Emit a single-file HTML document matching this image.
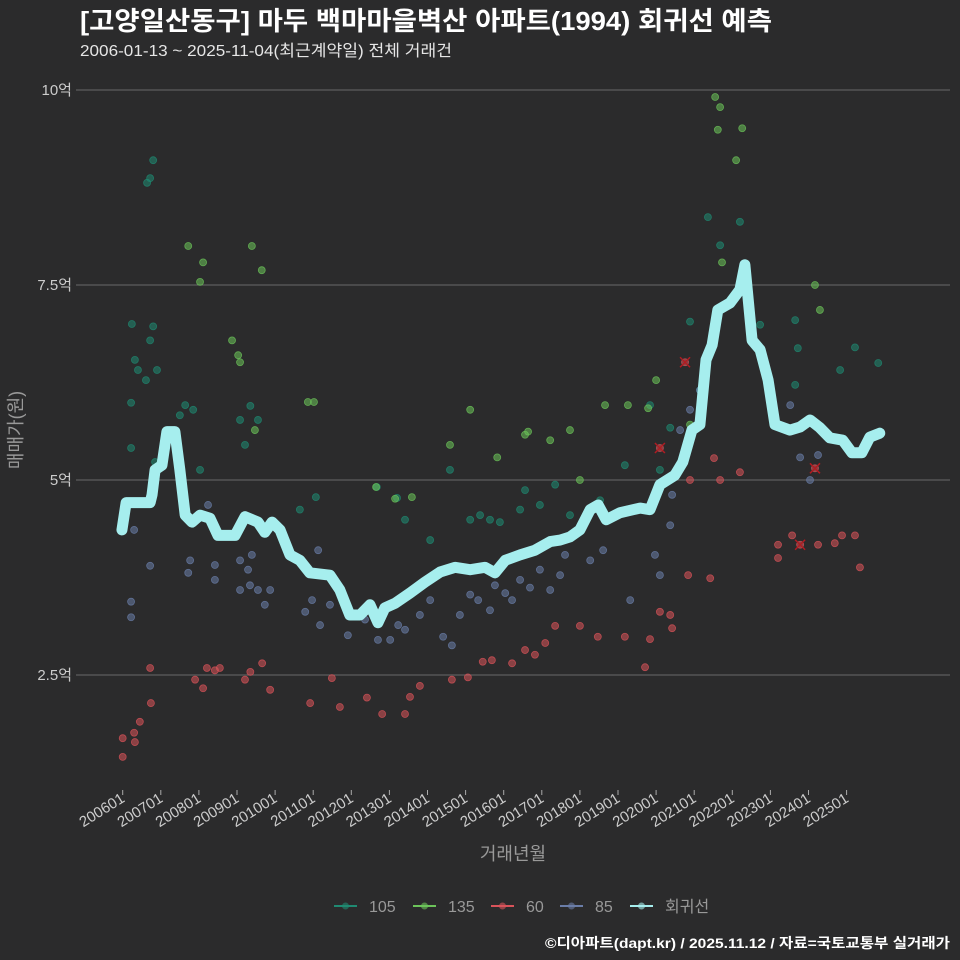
<!DOCTYPE html>
<html><head><meta charset="utf-8"><style>
body{margin:0;background:#2b2b2c;}
svg{display:block;font-family:"Liberation Sans","Noto Sans CJK KR",sans-serif;}
</style></head><body>
<svg id="chart" width="960" height="960">
<rect width="960" height="960" fill="#2b2b2c"/>
<text x="80" y="30" font-size="26" font-weight="bold" fill="#ffffff" textLength="692" lengthAdjust="spacingAndGlyphs">[고양일산동구] 마두 백마마을벽산 아파트(1994) 회귀선 예측</text>
<text x="80" y="56" font-size="16" fill="#e6e6e6" textLength="372" lengthAdjust="spacingAndGlyphs">2006-01-13 ~ 2025-11-04(최근계약일) 전체 거래건</text>
<g id="grid"></g><g id="pts"></g><g id="line"></g><g id="axes"></g>
<text transform="translate(22,430) rotate(-90)" text-anchor="middle" font-size="18" fill="#999">매매가(원)</text>
<text x="513" y="860" text-anchor="middle" font-size="18" fill="#999">거래년월</text>
<g id="legend"></g>
<text x="950" y="948" text-anchor="end" font-size="14" font-weight="bold" fill="#ffffff" textLength="405" lengthAdjust="spacingAndGlyphs">©디아파트(dapt.kr) / 2025.11.12 / 자료=국토교통부 실거래가</text>
</svg>
<script>
const yTicks=[2.5,5,7.5,10];
const yTickLabels=["2.5억","5억","7.5억","10억"];
const xTickYears=[2006,2007,2008,2009,2010,2011,2012,2013,2014,2015,2016,2017,2018,2019,2020,2021,2022,2023,2024,2025];
const xTickLabels=["200601","200701","200801","200901","201001","201101","201201","201301","201401","201501","201601","201701","201801","201901","202001","202101","202201","202301","202401","202501"];
const regT=[-0.02,0.09,0.72,0.77,0.85,1.03,1.16,1.37,1.50,1.64,1.82,2.03,2.29,2.50,2.95,3.21,3.55,3.73,3.92,4.13,4.39,4.65,4.91,5.44,5.70,5.96,6.23,6.49,6.70,6.88,7.15,7.54,7.93,8.33,8.72,9.12,9.51,9.77,10.04,10.43,10.82,11.22,11.48,11.74,12.00,12.27,12.48,12.69,13.05,13.58,13.84,14.10,14.49,14.70,14.94,15.15,15.31,15.47,15.62,15.94,16.20,16.33,16.52,16.73,16.94,17.12,17.51,17.78,18.04,18.30,18.56,18.90,19.14,19.40,19.61,19.87];
const regV=[4.36,4.71,4.71,4.81,5.13,5.19,5.62,5.62,5.13,4.55,4.46,4.55,4.51,4.29,4.29,4.53,4.46,4.33,4.46,4.36,4.04,3.97,3.81,3.78,3.59,3.27,3.27,3.40,3.17,3.36,3.42,3.55,3.69,3.82,3.88,3.85,3.88,3.81,3.97,4.04,4.10,4.21,4.23,4.27,4.36,4.62,4.68,4.49,4.58,4.64,4.62,4.94,5.06,5.23,5.64,5.71,6.54,6.73,7.18,7.27,7.44,7.76,6.79,6.67,6.28,5.71,5.64,5.68,5.77,5.67,5.54,5.51,5.35,5.35,5.55,5.60];
const s105T=[0.22,0.22,0.24,0.32,0.40,0.61,0.64,0.72,0.80,0.72,0.80,0.90,0.85,1.50,1.64,1.85,2.03,3.08,3.21,3.35,3.55,4.65,5.07,6.67,7.20,7.41,8.07,8.59,9.12,9.38,9.64,9.90,10.43,10.56,10.95,11.35,11.74,12.53,13.18,13.84,14.10,14.37,14.89,15.15,15.36,15.55,15.68,16.20,16.73,17.65,17.72,18.83,19.22,19.83,17.65];
const s105V=[5.41,5.99,7.0,6.54,6.41,6.28,8.81,8.87,9.1,6.79,6.97,6.41,5.23,5.83,5.96,5.9,5.13,5.77,5.45,5.95,5.77,4.62,4.78,4.91,4.77,4.49,4.23,5.13,4.49,4.55,4.49,4.46,4.62,4.87,4.68,4.94,4.55,4.74,5.19,5.96,5.13,5.67,7.03,6.15,8.37,6.86,8.01,8.31,6.99,7.05,6.69,6.41,6.7,6.5,6.22];
const s135T=[1.72,2.03,2.11,2.87,3.03,3.08,3.39,3.65,3.47,4.86,5.02,6.65,7.15,7.59,8.59,9.12,9.83,10.56,10.64,11.22,11.74,12.0,12.66,13.26,13.79,14.0,14.89,15.55,15.62,15.68,16.10,16.26,18.17,18.30,15.73];
const s135V=[8.0,7.54,7.79,6.79,6.6,6.51,8.0,7.69,5.64,6.0,6.0,4.91,4.76,4.78,5.45,5.9,5.29,5.58,5.62,5.51,5.64,5.0,5.96,5.96,5.92,6.28,5.71,9.91,9.49,9.78,9.1,9.51,7.5,7.18,7.79];
const s60T=[0.0,0.0,0.30,0.32,0.45,0.74,0.72,1.90,2.11,2.21,2.42,2.55,3.21,3.35,3.66,3.87,4.92,5.49,5.70,6.41,6.81,7.41,7.54,7.80,8.64,9.06,9.45,9.69,10.22,10.56,10.82,11.09,11.35,12.0,12.47,13.18,13.71,13.84,14.10,14.37,14.42,14.84,15.42,15.52,15.68,16.20,14.76,14.10,17.2,17.2,17.57,17.78,18.17,18.25,18.69,18.88,19.22,19.35,14.89];
const s60V=[1.45,1.69,1.76,1.64,1.9,2.14,2.59,2.44,2.33,2.59,2.56,2.59,2.44,2.54,2.65,2.31,2.14,2.46,2.09,2.21,2.0,2.0,2.22,2.36,2.44,2.47,2.67,2.69,2.65,2.82,2.76,2.91,3.13,3.13,2.99,2.99,2.6,2.96,3.31,3.27,3.1,3.78,3.74,5.28,5.0,5.1,6.51,5.41,4.17,4.0,4.29,4.17,5.15,4.17,4.19,4.29,4.29,3.88,5.0];
const s85T=[0.22,0.22,0.30,0.72,1.72,1.77,2.42,2.42,2.24,3.08,3.08,3.29,3.34,3.39,3.55,3.73,3.87,4.79,4.97,5.13,5.18,5.44,5.91,6.36,6.70,7.02,7.23,7.41,7.80,8.07,8.41,8.64,8.85,9.12,9.33,9.64,9.77,10.04,10.22,10.43,10.69,10.95,11.22,11.48,11.61,12.27,12.61,13.32,13.97,14.10,14.37,14.42,14.63,14.89,15.15,17.52,17.78,18.04,18.25];
const s85V=[3.44,3.24,4.36,3.9,3.81,3.97,3.91,3.72,4.68,3.59,3.97,3.85,3.65,4.04,3.59,3.4,3.59,3.31,3.46,4.1,3.14,3.4,3.01,3.21,2.95,2.95,3.14,3.08,3.27,3.46,2.99,2.88,3.27,3.53,3.46,3.33,3.65,3.55,3.46,3.72,3.62,3.85,3.59,3.78,4.04,3.97,4.1,3.46,4.04,3.78,4.42,4.81,5.64,5.9,6.15,5.96,5.29,5.0,5.32];
const markT=[14.10,14.76,17.78,18.17];
const markV=[5.41,6.51,4.17,5.15];

const NS="http://www.w3.org/2000/svg";
const X=t=>122.7+t*38.1;
const Y=v=>480-(v-5)*78;
function mk(tag,parent,attrs){const e=document.createElementNS(NS,tag);for(const k in attrs)e.setAttribute(k,attrs[k]);parent.appendChild(e);return e;}
const grid=document.getElementById('grid'),axes=document.getElementById('axes');
yTicks.forEach((v,i)=>{
 const l=mk('line',grid,{x1:76,x2:950,y1:Y(v),y2:Y(v),stroke:'#6a6a6a','stroke-width':1});
 
 
 const t=mk('text',axes,{x:72,y:Y(v)+5,'text-anchor':'end','font-size':15,fill:'#cccccc'});
 t.textContent=yTickLabels[i];
 
 
});
xTickYears.forEach((yr,i)=>{
 const x=X(yr-2006);
 const tk=mk('line',axes,{x1:x,x2:x,y1:790,y2:795,stroke:'#aaa'});
 
 
 const t=mk('text',axes,{transform:`translate(${x+3},${801}) rotate(-32)`,'text-anchor':'end','font-size':15,fill:'#cccccc'});
 t.textContent=xTickLabels[i];
 
 
});
const pts=document.getElementById('pts');
const series=[[s105T,s105V,'#1f8a72','105'],[s135T,s135V,'#6cc45a','135'],[s60T,s60V,'#d9535a','60'],[s85T,s85V,'#6a7da8','85']];
series.forEach(s=>{
 s[0].forEach((t,i)=>{
  const c=mk('circle',pts,{cx:X(t),cy:Y(s[1][i]),r:3.5,fill:s[2],'fill-opacity':0.55,stroke:s[2],'stroke-opacity':0.75,'stroke-width':0.8});
  
  
 });
});
markT.forEach((t,i)=>{
 const x=X(t),y=Y(markV[i]);
 const p=mk('path',pts,{d:`M${x-5},${y-5}L${x+5},${y+5}M${x-5},${y+5}L${x+5},${y-5}`,stroke:'#b01c22','stroke-width':1.5});
 
 
});
const line=document.getElementById('line');
const rl=mk('polyline',line,{points:regT.map((t,i)=>X(t)+','+Y(regV[i])).join(' '),fill:'none',stroke:'#a6eeee','stroke-width':11,'stroke-linejoin':'round','stroke-linecap':'round'});


const legend=document.getElementById('legend');
const leg=[['105','#1f8a72',334],['135','#6cc45a',413],['60','#d9535a',491],['85','#6a7da8',560],['회귀선','#a6eeee',630]];
leg.forEach(l=>{
 const g=mk('g',legend,{});
 
 
 mk('line',g,{x1:l[2],x2:l[2]+23,y1:906,y2:906,stroke:l[1],'stroke-width':2});
 mk('circle',g,{cx:l[2]+11.5,cy:906,r:3.5,fill:l[1],'fill-opacity':0.6});
 const t=mk('text',g,{x:l[2]+35,y:912,'font-size':16,fill:'#999'});
 t.textContent=l[0];
});
</script>
</body></html>
